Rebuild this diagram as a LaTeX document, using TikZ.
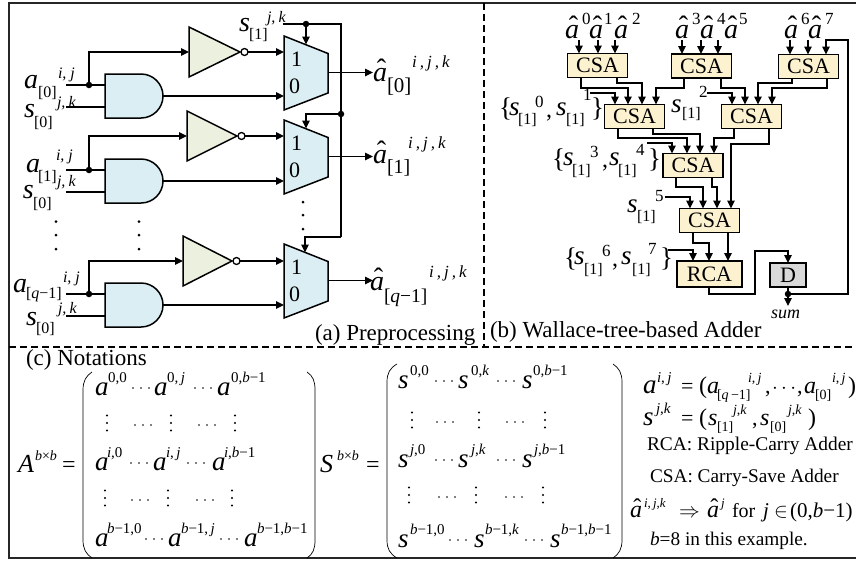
\documentclass[tikz,border=0pt]{standalone}
\usepackage{fontspec}
\setmainfont{Liberation Serif}
\usetikzlibrary{arrows.meta,calc}
\definecolor{cream}{HTML}{FDF2D0}
\definecolor{andblue}{HTML}{DAEEF3}
\definecolor{invgreen}{HTML}{EBF1DE}
\definecolor{dgray}{HTML}{D9D9D9}
\newcounter{lbl}
\newcommand\T[4]{\stepcounter{lbl}\node[lab] (t\thelbl) at (#1,#2) {\fontsize{#3}{#3}\selectfont #4};}
\newcommand\I[4]{\T{#1}{#2}{#3}{\textit{#4}}}
\newcommand\ha{\makebox[0pt][l]{\hspace{.14em}\raisebox{.08em}{ˆ}}\textit{a}}
\newcommand\vb{\textit{b}}
\newcommand\vi{\textit{i}}
\newcommand\vj{\textit{j}}
\newcommand\vk{\textit{k}}
\newcommand\ijk{\textit{i\hspace{.18em},\hspace{.18em}j\hspace{.18em},\hspace{.18em}k}}
\newcommand\Sym[9]{\T{#1}{#2}{28}{#3}\T{#4}{#5}{16}{#6}\T{#7}{#8}{16}{\textit{#9}}}
\newcommand\Sup[4]{\T{#1}{#2}{#3}{#4}}
\newcommand\gaterow[6]{%
 \draw[shape line,fill=invgreen] (#3,#4-25) -- (#3,#4+25) -- (#3+#6,#4) -- cycle;
 \node[bubble] (b#1) at (#3+#6+4.5,#4) {};
 \draw[shape line,fill=andblue] (105,#2) -- (141,#2) arc (-90:90:22) -- (105,#2+44) -- cycle;
 \draw[shape line,fill=andblue] (284,#5) -- (328,#5+17.5) -- (328,#5+57) -- (284,#5+74) -- cycle;
 \coordinate (ai#1) at (66,#2+11);
 \coordinate (as#1) at (66,#2+33);
 \coordinate (andin#1) at (105,#2+11);
 \coordinate (andsin#1) at (105,#2+33);
 \coordinate (andout#1) at (163,#2+22);
 \coordinate (invin#1) at (#3,#4);
 \coordinate (mux1#1) at (284,#4);
 \coordinate (mux0#1) at (284,#2+22);
 \coordinate (muxo#1) at (328,#5+36.5);
 \coordinate (muxs#1) at (306,#5+8.5);
 \coordinate (ao#1) at (373,#5+36.5);
 \node[dotn] (d#1) at (89,#2+11) {};
 \draw[wire] (ai#1) -- (d#1) -- (andin#1);
 \draw[wire] (as#1) -- (andsin#1);
 \draw[arr] (d#1) |- (invin#1);
 \draw[arr] (b#1) -- (mux1#1);
 \draw[arr] (andout#1) -- (mux0#1);
 \draw[arr] (muxo#1) -- (ao#1);
 \T{291}{#5+30}{22}{1}\T{289}{#5+57}{22}{0}
}
\newcommand\csa[4]{\node[box] (#1) at (#2,#3) {\fontsize{22}{22}\selectfont #4};}
\newcommand\wirebox[5]{\draw[arr] (#2,0 |- #1.south) -- (#2,#3) -- (#4,#3) -- (#4,0 |- #5.north);}
\newcommand\feed[4]{\draw[arr] (#1,#2) -- (#3,#2) -- (#3,0 |- #4.north);}
\newcommand\topin[3]{\coordinate (top#1) at (#1,#2); \draw[arr] (top#1) -- (#1,0 |- #3.north);}
\newcommand\Vd[2]{\foreach \dd in {-7.5,0,7.5}{\fill (#1,#2+\dd) circle (1.1);}}
\newcommand\Hd[2]{\foreach \dd in {-8,0,8}{\fill (#1+\dd,#2) circle (0.9);}}
\tikzset{
 lab/.style={anchor=base west,inner sep=0pt,outer sep=0pt},
 wire/.style={line width=1.4pt,black},
 arr/.style={wire,-{Triangle[length=8pt,width=7.5pt]}},
 shape line/.style={line width=1.5pt,line join=miter},
 bubble/.style={circle,draw,line width=1.3pt,fill=white,minimum size=7pt,inner sep=0pt,outer sep=0pt},
 dotn/.style={circle,fill=black,minimum size=6.5pt,inner sep=0pt,outer sep=0pt},
 box/.style={draw,line width=1.7pt,fill=cream,minimum width=60pt,minimum height=24pt,inner sep=0pt,outer sep=0pt},
 sep/.style={line width=1.3pt,dash pattern=on 7pt off 4pt},
 paren/.style={line width=.7pt},
}
\begin{document}
\begin{tikzpicture}[x=1pt,y=-1pt]
\useasboundingbox (0,0) rectangle (856,560);
\draw[line width=1.5pt,black!85] (856,3) -- (9,3) -- (9,558) -- (856,558);
\draw[sep] (484,3) -- (484,347);
\draw[sep] (9,347) -- (856,347);

% ---- (a)
\gaterow{0}{74}{189}{52}{36}{51}
\gaterow{1}{159}{187}{136}{120}{50}
\gaterow{2}{283}{183}{261}{244}{49}
\coordinate (sone) at (283,24);
\node[dotn] (ds0) at (306,24) {};
\coordinate (sc) at (341,24);
\node[dotn] (ds1) at (341,114) {};
\coordinate (sl) at (341,237);
\draw[wire] (sone) -- (ds0) -- (sc) -- (ds1) -- (sl);
\draw[arr] (ds0) -- (muxs0);
\draw[arr] (ds1) -| (muxs1);
\draw[arr] (sl) -| (305,252.5);
\foreach \yy in {221.5,235,249}{\fill (56,\yy) circle (1.5); \fill (139,\yy) circle (1.5);}
\foreach \yy in {202,215,229}{\fill (303,\yy) circle (1.5);}

\Sym{24}{88}{\textit{a}}{38}{97}{[0]}{58}{78}{i,\hspace{.25em}j}
\Sym{24}{117}{\textit{s}}{34}{127}{[0]}{57}{107}{j,\hspace{.2em}k}
\Sym{239}{31}{\textit{s}}{249}{39}{[1]}{267}{22}{j,\hspace{.2em}k}
\T{373}{81}{28}{\ha}\T{387}{92}{21}{[0]}\T{412}{67}{17}{\ijk}
\Sym{26}{172}{\textit{a}}{38}{181}{[1]}{56}{160}{i,\hspace{.25em}j}
\Sym{23}{198}{\textit{s}}{33}{208}{[0]}{57}{186}{j,\hspace{.2em}k}
\T{373}{163}{28}{\ha}\T{387}{173}{20}{[1]}\T{408}{148}{17}{\ijk}
\Sym{13}{292}{\textit{a}}{26}{298}{[\textit{q}−1]}{63}{282}{i,\hspace{.25em}j}
\Sym{26}{325}{\textit{s}}{36}{333}{[0]}{58}{313}{j,\hspace{.2em}k}
\T{370}{290}{28}{\ha}\T{384}{302}{19.5}{[\textit{q}−1]}\T{429}{277}{17}{\ijk}
\T{315}{340}{23}{(a) Preprocessing}
\T{490}{337}{23}{(b) Wallace-tree-based Adder}

% ---- (b)
\csa{c1}{597.5}{65.5}{CSA}
\csa{c2}{701.5}{66}{CSA}
\csa{c3}{808.5}{66.5}{CSA}
\csa{c4}{634.5}{116.5}{CSA}
\csa{c5}{751.5}{116.5}{CSA}
\csa{c6}{693}{165.5}{CSA}
\csa{c7}{709.5}{220.5}{CSA}
\node[box,minimum width=65pt,minimum height=26pt] (rca) at (709.5,274) {\fontsize{22}{22}\selectfont RCA};
\node[box,minimum width=36pt,minimum height=24pt,fill=dgray] (dreg) at (788,275) {\fontsize{22}{22}\selectfont D};

\topin{579}{40}{c1}\topin{598}{40}{c1}\topin{615}{40}{c1}
\topin{682}{40}{c2}\topin{701}{40}{c2}\topin{718}{40}{c2}
\topin{790}{40}{c3}\topin{808}{40}{c3}

\wirebox{c1}{581}{88}{628}{c4}
\wirebox{c1}{617}{83}{642}{c4}
\wirebox{c2}{684}{88}{656}{c4}
\feed{590}{93}{615}{c4}
\wirebox{c2}{721}{88}{745}{c5}
\wirebox{c3}{792}{83}{758}{c5}
\wirebox{c3}{827}{88}{772}{c5}
\feed{707}{93}{732}{c5}
\wirebox{c4}{618}{138}{687}{c6}
\wirebox{c4}{653}{134}{700}{c6}
\wirebox{c5}{734}{138}{714}{c6}
\wirebox{c5}{769}{144}{731}{c7}
\feed{647}{143}{672}{c6}
\wirebox{c6}{676}{187}{703}{c7}
\wirebox{c6}{712}{187}{717}{c7}
\feed{665}{197}{690}{c7}
\wirebox{c7}{693}{243}{709}{rca}
\draw[arr] (728,0 |- c7.south) -- (728,0 |- rca.north);
\feed{668}{250}{693}{rca}
\draw[arr] (709,0 |- rca.south) -- (709,294) -- (755,294) -- (755,251) -- (788,251) -- (dreg.north);
\node[dotn] (dd) at (788,294) {};
\coordinate (sumend) at (788,306);
\draw[arr] (dreg.south) -- (sumend);
\draw[arr] (dd) -- (848,294) -- (848,40) -- (826,40) -- (826,0 |- c3.north);
\I{771}{318}{18}{sum}

\T{565}{38}{28}{\ha}\T{582}{24}{17}{0}
\T{589}{38}{28}{\ha}\T{604}{24}{17}{1}
\T{614}{38}{28}{\ha}\T{632}{24}{17}{2}
\T{675}{38}{28}{\ha}\T{692}{24}{17}{3}
\T{700}{38}{28}{\ha}\T{717}{24}{17}{4}
\T{724}{38}{28}{\ha}\T{739}{24}{17}{5}
\T{784}{38}{28}{\ha}\T{801}{24}{17}{6}
\T{808}{38}{28}{\ha}\T{825}{24}{17}{7}

\T{499}{116}{27}{\{}\I{509}{115}{27}{s}\T{518}{124}{16}{[1]}\T{535}{107}{17}{0}\T{546}{117}{24}{,}
\I{556}{115}{27}{s}\T{566}{124}{16}{[1]}\T{583}{100}{17}{1}\T{591}{116}{27}{\}}
\I{671}{112}{27}{s}\T{682}{118}{16}{[1]}\T{699}{97}{17}{2}
\T{552}{167}{27}{\{}\I{563}{165}{27}{s}\T{572}{175}{16}{[1]}\T{590}{157}{17}{3}\T{602}{167}{24}{,}
\I{609}{165}{27}{s}\T{618}{175}{16}{[1]}\T{636}{155}{17}{4}\T{648}{167}{27}{\}}
\I{627}{212}{27}{s}\T{637}{221}{16}{[1]}\T{655}{201}{17}{5}
\T{564}{266}{27}{\{}\I{574}{264}{27}{s}\T{584}{274}{16}{[1]}\T{602}{256}{17}{6}\T{612}{266}{24}{,}
\I{621}{264}{27}{s}\T{632}{274}{16}{[1]}\T{648}{254}{17}{7}\T{660}{266}{27}{\}}

% ---- (c)
\T{26}{365}{23}{(c) Notations}
\I{18}{472}{26}{A}\Sup{35}{460}{14}{\vb×\vb}\T{62}{472}{24}{=}
\I{320}{472}{26}{S}\Sup{337}{460}{14}{\vb×\vb}\T{366}{472}{24}{=}
\draw[paren] (92,372) .. controls (86,376) and (83,381) .. (83,390) -- (83,540) .. controls (83,549) and (86,554) .. (92,558);
\draw[paren] (307,372) .. controls (313,376) and (315,381) .. (315,390) -- (315,540) .. controls (315,549) and (313,554) .. (307,558);
\draw[paren] (397,364) .. controls (390,368) and (387,373) .. (387,382) -- (387,540) .. controls (387,549) and (390,554) .. (397,558);
\draw[paren] (613,364) .. controls (619,368) and (622,373) .. (622,382) -- (622,540) .. controls (622,549) and (619,554) .. (613,558);

% A matrix
\I{95}{395}{27}{a}\Sup{108}{382}{15}{0,0}\Hd{141}{388}\I{154}{395}{27}{a}\Sup{167}{382}{15}{0,\,\vj}\Hd{203}{388}\I{217}{395}{27}{a}\Sup{231}{382}{15}{0,\vb−1}
\Vd{107}{423}\Hd{143}{425}\Vd{171}{423}\Hd{207}{425}\Vd{235}{423}
\I{95}{470}{27}{a}\Sup{107}{457}{15}{\vi,0}\Hd{139}{463}\I{153}{470}{27}{a}\Sup{166}{457}{15}{\vi,\,\vj}\Hd{196}{463}\I{212}{470}{27}{a}\Sup{224}{457}{15}{\vi,\vb−1}
\Vd{105}{498}\Hd{140}{500}\Vd{168}{498}\Hd{205}{500}\Vd{232}{498}
\I{95}{546}{27}{a}\Sup{107}{533}{15}{\vb−1,0}\Hd{154}{539}\I{168}{546}{27}{a}\Sup{181}{533}{15}{\vb−1,\,\vj}\Hd{229}{539}\I{244}{546}{27}{a}\Sup{257}{533}{15}{\vb−1,\vb−1}

% S matrix
\I{398}{388}{27}{s}\Sup{410}{375}{15}{0,0}\Hd{444}{381}\I{458}{388}{27}{s}\Sup{471}{375}{15}{0,\vk}\Hd{506}{381}\I{522}{388}{27}{s}\Sup{533}{375}{15}{0,\vb−1}
\Vd{412}{420}\Hd{445}{422}\Vd{479}{420}\Hd{515}{422}\Vd{545}{420}
\I{398}{467}{27}{s}\Sup{410}{454}{15}{\vj,0}\Hd{444}{460}\I{458}{467}{27}{s}\Sup{471}{454}{15}{\vj,\vk}\Hd{506}{460}\I{522}{467}{27}{s}\Sup{534}{454}{15}{\vj,\vb−1}
\Vd{409}{495}\Hd{447}{497}\Vd{476}{495}\Hd{514}{497}\Vd{543}{495}
\I{398}{547}{27}{s}\Sup{410}{534}{15}{\vb−1,0}\Hd{458}{540}\I{474}{547}{27}{s}\Sup{485}{534}{15}{\vb−1,\vk}\Hd{534}{540}\I{550}{547}{27}{s}\Sup{561}{534}{15}{\vb−1,\vb−1}

% right column
\I{643}{393}{27}{a}\Sup{657}{382}{15}{\vi,\,\vj}\T{681}{393}{22}{=}\T{699}{393}{24}{(}
\I{707}{393}{24}{a}\T{717}{399}{14}{[\textit{q}\,−1]}\Sup{748}{382}{14}{\vi,\,\vj}\T{765}{393}{22}{,}\T{772}{393}{20}{$\cdots$}\T{797}{393}{22}{,}
\I{804}{393}{24}{a}\T{815}{399}{14}{[0]}\Sup{832}{382}{14}{\vi,\,\vj}\T{848}{393}{24}{)}
\I{643}{425}{27}{s}\Sup{656}{413}{15}{\vj,\vk}\T{681}{425}{22}{=}\T{699}{425}{24}{(}
\I{708}{425}{24}{s}\T{717}{431}{14}{[1]}\Sup{733}{414}{14}{\vj,\vk}\T{752}{425}{22}{,}
\I{760}{425}{24}{s}\T{770}{431}{14}{[0]}\Sup{788}{414}{14}{\vj,\vk}\T{808}{425}{24}{)}
\T{647}{450}{19.4}{RCA: Ripple-Carry Adder}
\T{650}{482}{19.3}{CSA: Carry-Save Adder}
\T{630}{517}{24}{\ha}\Sup{644}{507}{13}{\vi,\,\vj,\vk}\T{679}{517}{22}{$\Rightarrow$}
\T{707}{517}{24}{\ha}\Sup{721}{507}{13}{\vj}\T{732}{517}{20}{for}\I{763}{517}{21}{j}\T{774}{517}{20}{$\in$}\T{790}{517}{21}{(0,\textit{b}−1)}
\T{650}{545}{19.3}{\textit{b}=8 in this example.}
\end{tikzpicture}
\end{document}
